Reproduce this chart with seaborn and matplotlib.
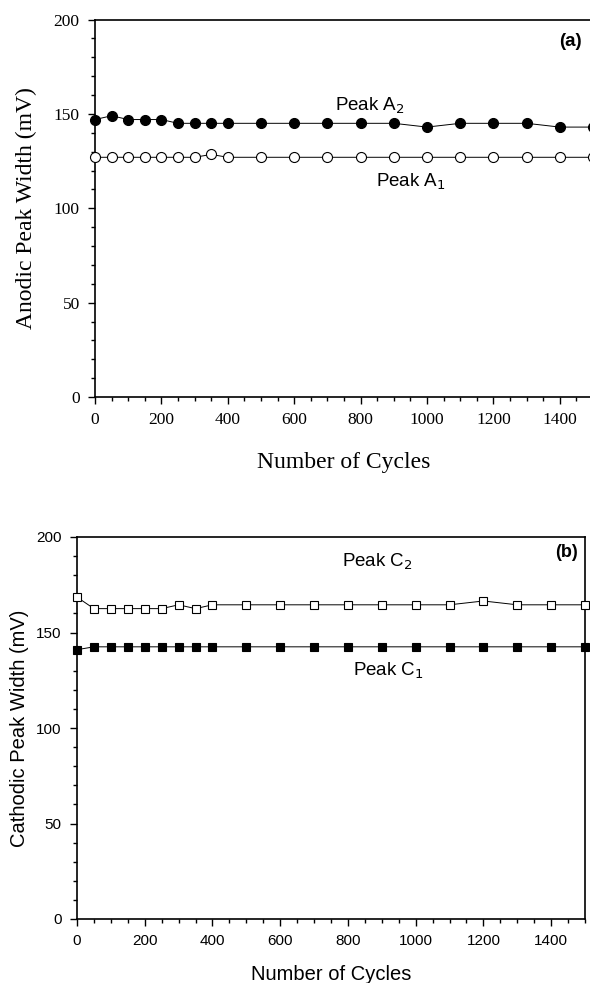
import numpy as np
import pandas as pd
import matplotlib
matplotlib.use("Agg")
import matplotlib.pyplot as plt
from matplotlib.ticker import MultipleLocator
import seaborn as sns

cycles = [0, 50, 100, 150, 200, 250, 300, 350, 400, 500, 600, 700, 800,
          900, 1000, 1100, 1200, 1300, 1400, 1500]
peak_a2 = [147, 149, 147, 147, 147, 145, 145, 145, 145, 145, 145, 145, 145,
           145, 143, 145, 145, 145, 143, 143]
peak_a1 = [127, 127, 127, 127, 127, 127, 127, 128.5, 127, 127, 127, 127, 127,
           127, 127, 127, 127, 127, 127, 127]
peak_c2 = [168.5, 162.5, 162.5, 162.5, 162.5, 162.5, 164.5, 162.5, 164.5, 164.5,
           164.5, 164.5, 164.5, 164.5, 164.5, 164.5, 166.5, 164.5, 164.5, 164.5]
peak_c1 = [141, 142.5, 142.5, 142.5, 142.5, 142.5, 142.5, 142.5, 142.5, 142.5,
           142.5, 142.5, 142.5, 142.5, 142.5, 142.5, 142.5, 142.5, 142.5, 142.5]

xticks = [0, 200, 400, 600, 800, 1000, 1200, 1400]
yticks = [0, 50, 100, 150, 200]

df = pd.DataFrame({"cycles": cycles, "A2": peak_a2, "A1": peak_a1,
                   "C2": peak_c2, "C1": peak_c1})

sns.set_theme(style="ticks")
plt.rcParams["font.family"] = ["Liberation Serif", "DejaVu Serif"]

W, H = 590, 983
fig = plt.figure(figsize=(W / 100, H / 100), dpi=100)

# ---------- panel (a) ----------
ax1 = fig.add_axes([95 / W, 1 - 397 / H, (593 - 95) / W, (397 - 19.5) / H])
sns.lineplot(data=df, x="cycles", y="A2", ax=ax1, color="black", lw=0.7,
             marker="o", markersize=7.2, markerfacecolor="black",
             markeredgecolor="black", markeredgewidth=0.8, clip_on=False,
             zorder=3)
sns.lineplot(data=df, x="cycles", y="A1", ax=ax1, color="black", lw=0.7,
             marker="o", markersize=7.2, markerfacecolor="white",
             markeredgecolor="black", markeredgewidth=0.8, clip_on=False,
             zorder=3)
ax1.set_xlim(0, 1500)
ax1.set_ylim(0, 200)
ax1.set_xticks(xticks)
ax1.set_yticks(yticks)
ax1.xaxis.set_minor_locator(MultipleLocator(50))
ax1.yaxis.set_minor_locator(MultipleLocator(10))
ax1.tick_params(which="major", direction="out", length=5, width=1.0,
                labelsize=12.5, color="black", labelcolor="black", pad=6)
ax1.tick_params(which="minor", direction="out", length=3, width=1.0,
                color="black")
for s in ax1.spines.values():
    s.set_color("black")
    s.set_linewidth(1.2)
ax1.set_xlabel("Number of Cycles", fontsize=17, labelpad=17, color="black")
ax1.set_ylabel("Anodic Peak Width (mV)", fontsize=17, labelpad=12, color="black")
ax1.text(828, 154, "Peak A$_2$", fontsize=13.5, family=["Liberation Sans"],
         ha="center", va="center", color="black")
ax1.text(952, 114, "Peak A$_1$", fontsize=13.5, family=["Liberation Sans"],
         ha="center", va="center", color="black")
ax1.text(1467, 188.5, "(a)", fontsize=13.5, family=["Liberation Sans"],
         fontweight="bold", ha="right", va="center", color="black")

# ---------- panel (b) ----------
ax2 = fig.add_axes([77 / W, 1 - 919 / H, (585 - 77) / W, (919 - 537) / H])
sns.lineplot(data=df, x="cycles", y="C2", ax=ax2, color="black", lw=0.7,
             marker="s", markersize=5.8, markerfacecolor="white",
             markeredgecolor="black", markeredgewidth=0.8, clip_on=False,
             zorder=3)
sns.lineplot(data=df, x="cycles", y="C1", ax=ax2, color="black", lw=0.7,
             marker="s", markersize=5.8, markerfacecolor="black",
             markeredgecolor="black", markeredgewidth=0.8, clip_on=False,
             zorder=3)
ax2.set_xlim(0, 1500)
ax2.set_ylim(0, 200)
ax2.set_xticks(xticks)
ax2.set_yticks(yticks)
ax2.xaxis.set_minor_locator(MultipleLocator(50))
ax2.yaxis.set_minor_locator(MultipleLocator(10))
ax2.tick_params(which="major", direction="out", length=5, width=1.0,
                labelsize=11, color="black", labelcolor="black", pad=6)
ax2.tick_params(which="minor", direction="out", length=3, width=1.0,
                color="black")
for lab in ax2.get_xticklabels() + ax2.get_yticklabels():
    lab.set_family(["Liberation Sans"])
for s in ax2.spines.values():
    s.set_color("black")
    s.set_linewidth(1.2)
ax2.set_xlabel("Number of Cycles", fontsize=14.5, labelpad=12, color="black",
               family=["Liberation Sans"])
ax2.set_ylabel("Cathodic Peak Width (mV)", fontsize=14.5, labelpad=5,
               color="black", family=["Liberation Sans"])
ax2.text(888, 187, "Peak C$_2$", fontsize=13.5, family=["Liberation Sans"],
         ha="center", va="center", color="black")
ax2.text(920, 130, "Peak C$_1$", fontsize=13.5, family=["Liberation Sans"],
         ha="center", va="center", color="black")
ax2.text(1480, 192, "(b)", fontsize=13, family=["Liberation Sans"],
         fontweight="bold", ha="right", va="center", color="black")

fig.savefig("out.png", dpi=100)
